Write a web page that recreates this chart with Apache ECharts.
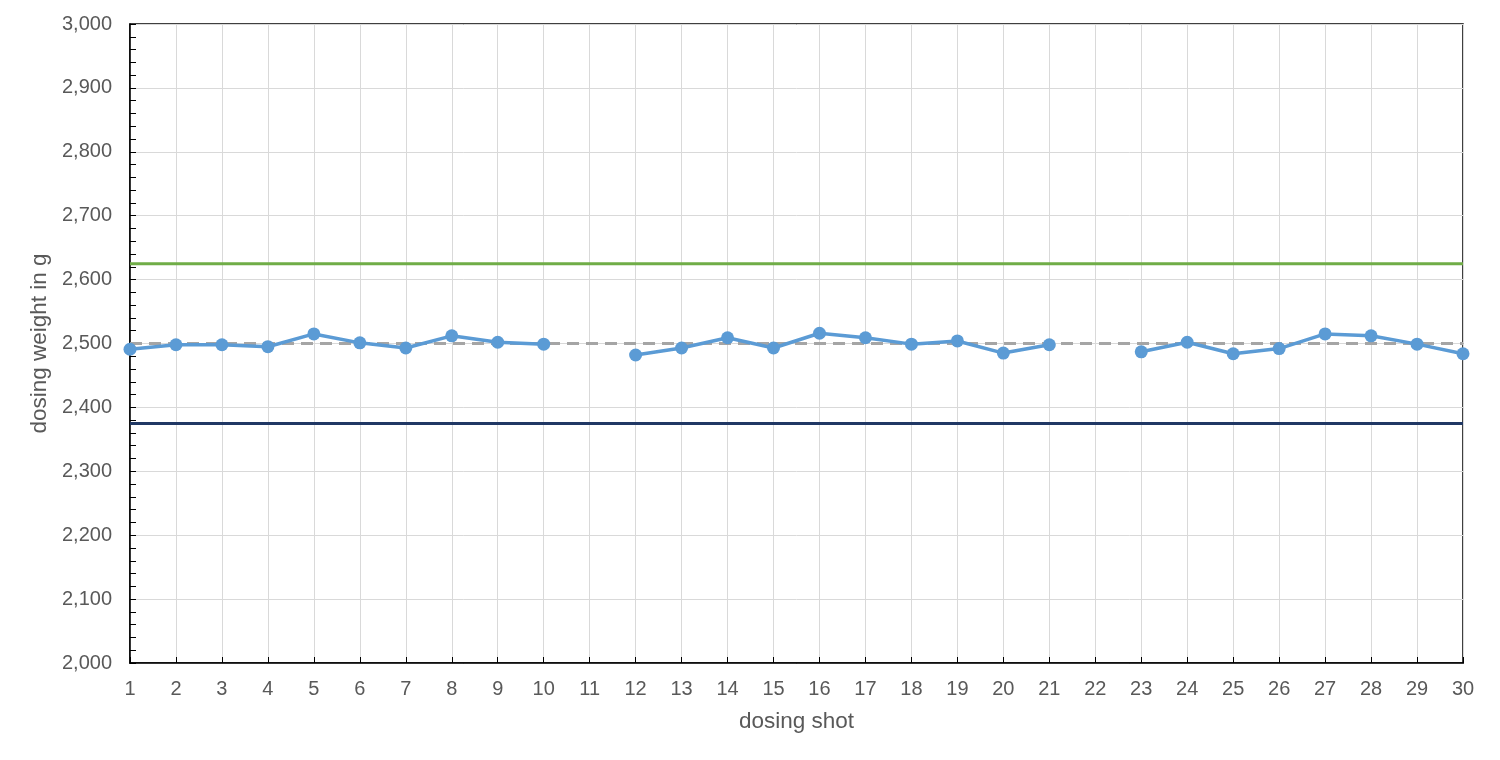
<!DOCTYPE html>
<html>
<head>
<meta charset="utf-8">
<script src="https://cdn.jsdelivr.net/npm/echarts@6/dist/echarts.min.js"></script>
<style>html,body{margin:0;padding:0;background:#fff}#c{width:1500px;height:760px}</style>
</head>
<body>
<div id="c"></div>
<script>
const categories = ['1','2','3','4','5','6','7','8','9','10','11','12','13','14','15','16','17','18','19','20','21','22','23','24','25','26','27','28','29','30'];
const dosingWeight = [2491,2498,2498,2495,2515,2501,2493,2512,2502,2499,null,2482,2493,2509,2493,2516,2509,2499,2504,2485,2498,null,2487,2502,2484,2492,2515,2512,2499,2484];
const upperLimit = 2625;
const target = 2500;
const lowerLimit = 2375;
const yMin = 2000, yMax = 3000, yStep = 100;

const labelColor = '#595959';
const font = 'Liberation Sans, Arial, sans-serif';
const flat = v => categories.map(() => v);

const chart = echarts.init(document.getElementById('c'), null, {renderer:'canvas'});
chart.setOption({
  animation: false,
  grid: {left:130, right:37, top:24, bottom:97, show:true, borderColor:'#000', borderWidth:1.5},
  xAxis: {
    type:'category', data:categories, boundaryGap:false,
    name:'dosing shot', nameLocation:'middle', nameGap:47,
    nameTextStyle:{color:labelColor, fontSize:22.5, fontFamily:font},
    axisLine:{lineStyle:{color:'#000', width:1.5}},
    axisTick:{show:true, inside:true, length:6, alignWithLabel:true, lineStyle:{color:'#000'}},
    axisLabel:{color:labelColor, fontSize:20, fontFamily:font, margin:16, interval:0},
    splitLine:{show:true, lineStyle:{color:'#d9d9d9', width:1}}
  },
  yAxis: {
    type:'value', min:yMin, max:yMax, interval:yStep,
    name:'dosing weight in g', nameLocation:'middle', nameGap:71,
    nameTextStyle:{color:labelColor, fontSize:22.5, fontFamily:font},
    axisLine:{show:true, lineStyle:{color:'#000', width:1.5}},
    axisTick:{show:true, inside:true, length:6, lineStyle:{color:'#000'}},
    minorTick:{show:true, splitNumber:5, length:6, lineStyle:{color:'#000'}},
    axisLabel:{color:labelColor, fontSize:20, fontFamily:font, margin:18,
      formatter: v => v.toLocaleString('en-US')},
    splitLine:{show:true, lineStyle:{color:'#d9d9d9', width:1}}
  },
  series: [
    {name:'upper', type:'line', data:flat(upperLimit), symbol:'none', lineStyle:{color:'#70ad47', width:3}, z:2},
    {name:'lower', type:'line', data:flat(lowerLimit), symbol:'none', lineStyle:{color:'#203864', width:3}, z:2},
    {name:'target', type:'line', data:flat(target), symbol:'none', lineStyle:{color:'#a5a5a5', width:3, type:[12,7]}, z:2},
    {name:'dosing weight', type:'line', data:dosingWeight, connectNulls:false,
      symbol:'circle', symbolSize:13, itemStyle:{color:'#5b9bd5'},
      lineStyle:{color:'#5b9bd5', width:3.5}, z:3}
  ]
});
</script>
</body>
</html>
